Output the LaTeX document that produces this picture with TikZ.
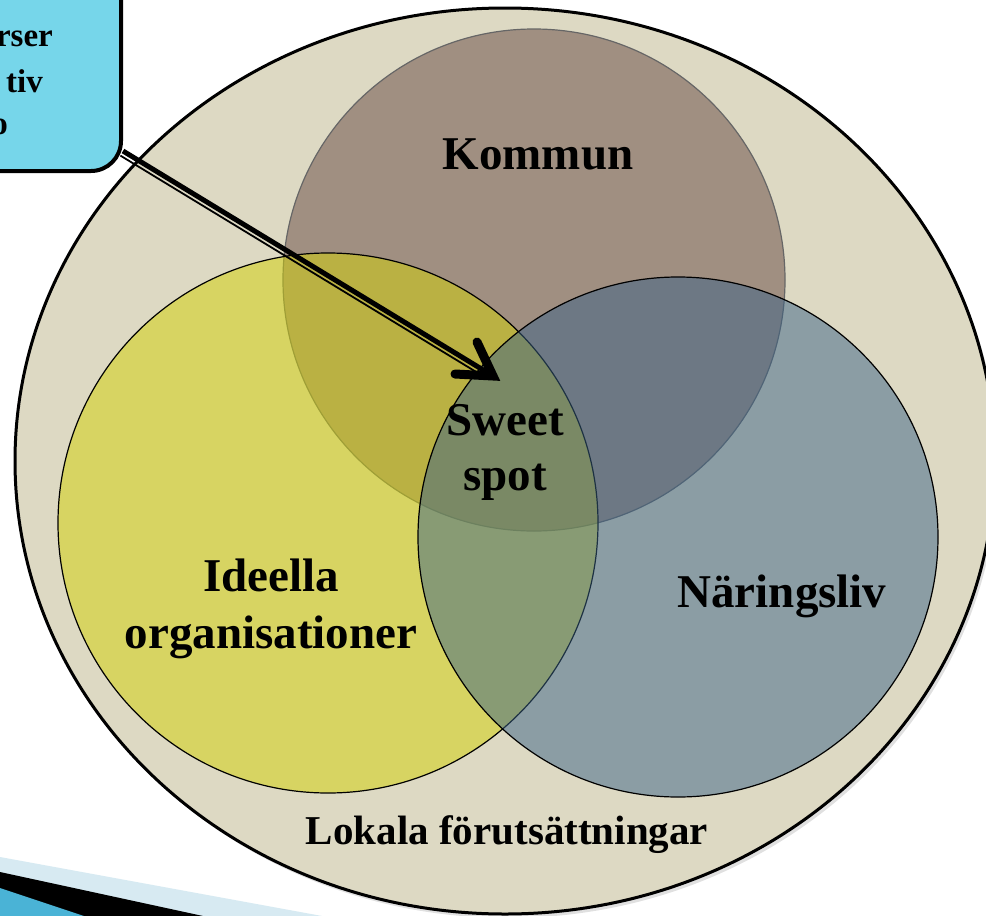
\documentclass[tikz,border=0pt]{standalone}
\usepackage{fontspec}
\setmainfont{Liberation Serif}
\usetikzlibrary{calc}
\definecolor{outerc}{RGB}{221,217,195}
\definecolor{kommunc}{RGB}{160,143,129}
\definecolor{ideellac}{RGB}{210,209,12}
\definecolor{naringc}{RGB}{59,99,135}
\definecolor{boxc}{RGB}{118,214,234}
\definecolor{bandlight}{RGB}{215,234,242}
\definecolor{bandcyan}{RGB}{74,179,214}
\begin{document}
\begin{tikzpicture}[x=1pt,y=-1pt,
  lbl/.style={font=\fontsize{47}{56}\selectfont\bfseries, inner sep=0pt, anchor=base},
  lbls/.style={font=\fontsize{41}{48}\selectfont\bfseries, inner sep=0pt, anchor=base},
  boxtxt/.style={font=\fontsize{33}{40}\selectfont\bfseries, inner sep=0pt, anchor=base east},
  venn/.style={line width=1.2pt, draw=black}]
\useasboundingbox (0,0) rectangle (986,916);
\fill[white] (0,0) rectangle (986,916);

% template bands (bottom left)
\fill[bandlight] (0,857) -- (322,916) -- (0,916) -- cycle;
\fill[black] (0,872) -- (203,916) -- (0,916) -- cycle;
\fill[bandcyan] (0,888) -- (84,916) -- (0,916) -- cycle;

% outer ellipse with soft shadow
\fill[black, opacity=0.12] (508,465) ellipse [x radius=490, y radius=453];
\filldraw[fill=outerc, line width=3pt] (505,461) ellipse [x radius=490, y radius=453];

% Venn circles
\filldraw[venn, fill=kommunc, draw=black!60] (534,280) circle [radius=251];
\filldraw[venn, fill=ideellac, fill opacity=0.53] (328,523) circle [radius=270];
\filldraw[venn, fill=naringc, fill opacity=0.5] (678,537) circle [radius=260];

% labels
\node[lbl] (kommun) at (538,169) {Kommun};
\node[lbl] (sweetA) at (505,435) {Sweet};
\node[lbl] (sweetB) at (505,490) {spot};
\node[lbl] (ideellaA) at (271,591) {Ideella};
\node[lbl] (ideellaB) at (271,648) {organisationer};
\node[lbl] (naring) at (782,607) {Näringsliv};
\node[lbls] (lokala) at (507,844) {Lokala förutsättningar};

% call-out box (top left, cut by the page edge)
\node[draw=black, line width=4pt, fill=boxc, rounded corners=30pt,
      minimum width=400pt, minimum height=300pt, inner sep=0pt,
      anchor=south east] (box) at (123,173) {};
\node[boxtxt] (btA) at (53,46) {rser};
\node[boxtxt] (btB) at (43,92) {tiv};
\node[boxtxt] (btC) at (8,134) {o};

% arrow from the box to the sweet spot
\coordinate (start) at ([yshift=22pt]box.south east);
\coordinate (tip) at (493,376);
\coordinate (wingA) at (477,342);
\coordinate (wingB) at (455,374);
\draw[line width=5pt] (start) -- (tip);
\draw[line width=1.8pt, transform canvas={shift={(-2.6pt,-4.6pt)}}]
  (start) -- ($(tip)!14pt!(start)$);
\draw[line width=9pt, line cap=round, line join=miter] (wingA) -- (tip) -- (wingB);
\end{tikzpicture}
\end{document}
